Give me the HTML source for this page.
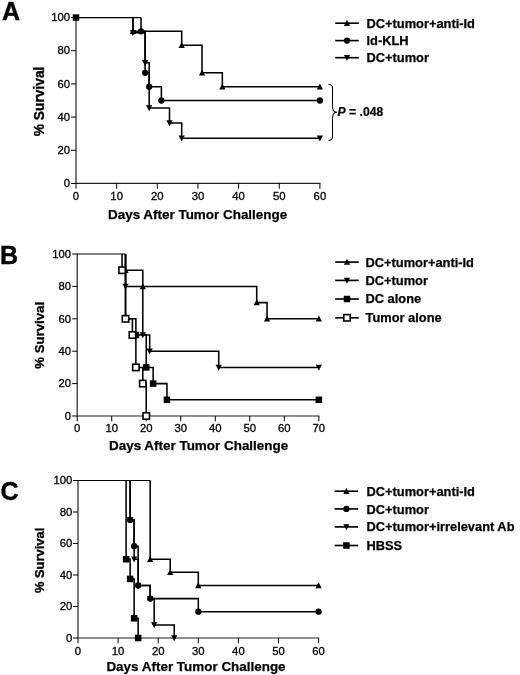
<!DOCTYPE html>
<html><head><meta charset="utf-8"><title>Survival curves</title>
<style>
html,body{margin:0;padding:0;background:#fff;}
body{width:520px;height:675px;overflow:hidden;font-family:"Liberation Sans",sans-serif;}
svg{display:block;will-change:transform;}
text{font-family:"Liberation Sans",sans-serif;fill:#000;}
.tk{font-size:11.3px;stroke:#000;stroke-width:0.3px;}
.b{font-weight:bold;font-size:13.45px;stroke:#000;stroke-width:0.25px;}
.lg{font-weight:bold;font-size:12.85px;stroke:#000;stroke-width:0.25px;}
.pl{font-weight:bold;font-size:25px;stroke:#000;stroke-width:0.4px;}
.yt{font-weight:bold;font-size:13.75px;}
.pv{font-weight:bold;font-size:12.15px;stroke:#000;stroke-width:0.2px;}
</style></head><body>
<svg width="520" height="675" viewBox="0 0 520 675">
<rect x="0" y="0" width="520" height="675" fill="#fff"/>

<g><!-- panel A -->
<text class="pl" x="2.1" y="19.8">A</text>
<path d="M76.00,16.95 V183.45 H320.50" fill="none" stroke="#222" stroke-width="1.2"/>
<line x1="71.00" x2="76.00" y1="183.45" y2="183.45" stroke="#000" stroke-width="1.0"/>
<text class="tk" x="70.00" y="187.20" text-anchor="end">0</text>
<line x1="71.00" x2="76.00" y1="150.27" y2="150.27" stroke="#000" stroke-width="1.0"/>
<text class="tk" x="70.00" y="154.02" text-anchor="end">20</text>
<line x1="71.00" x2="76.00" y1="117.09" y2="117.09" stroke="#000" stroke-width="1.0"/>
<text class="tk" x="70.00" y="120.84" text-anchor="end">40</text>
<line x1="71.00" x2="76.00" y1="83.91" y2="83.91" stroke="#000" stroke-width="1.0"/>
<text class="tk" x="70.00" y="87.66" text-anchor="end">60</text>
<line x1="71.00" x2="76.00" y1="50.73" y2="50.73" stroke="#000" stroke-width="1.0"/>
<text class="tk" x="70.00" y="54.48" text-anchor="end">80</text>
<line x1="71.00" x2="76.00" y1="17.55" y2="17.55" stroke="#000" stroke-width="1.0"/>
<text class="tk" x="70.00" y="21.30" text-anchor="end">100</text>
<line x1="76.00" x2="76.00" y1="183.45" y2="188.75" stroke="#000" stroke-width="1.0"/>
<text class="tk" x="76.00" y="200.40" text-anchor="middle">0</text>
<line x1="116.65" x2="116.65" y1="183.45" y2="188.75" stroke="#000" stroke-width="1.0"/>
<text class="tk" x="116.65" y="200.40" text-anchor="middle">10</text>
<line x1="157.30" x2="157.30" y1="183.45" y2="188.75" stroke="#000" stroke-width="1.0"/>
<text class="tk" x="157.30" y="200.40" text-anchor="middle">20</text>
<line x1="197.95" x2="197.95" y1="183.45" y2="188.75" stroke="#000" stroke-width="1.0"/>
<text class="tk" x="197.95" y="200.40" text-anchor="middle">30</text>
<line x1="238.60" x2="238.60" y1="183.45" y2="188.75" stroke="#000" stroke-width="1.0"/>
<text class="tk" x="238.60" y="200.40" text-anchor="middle">40</text>
<line x1="279.25" x2="279.25" y1="183.45" y2="188.75" stroke="#000" stroke-width="1.0"/>
<text class="tk" x="279.25" y="200.40" text-anchor="middle">50</text>
<line x1="319.90" x2="319.90" y1="183.45" y2="188.75" stroke="#000" stroke-width="1.0"/>
<text class="tk" x="319.90" y="200.40" text-anchor="middle">60</text>
<text class="b" x="197.6" y="219.30" text-anchor="middle">Days After Tumor Challenge</text>
<text class="yt" style="font-size:13.75px" stroke="#000" stroke-width="0.35" transform="translate(43.8,101.4) rotate(-90)" text-anchor="middle">% Survival</text>
<path d="M76.00,17.55 H141.04" fill="none" stroke="#000" stroke-width="1.15"/>
<path d="M132.91,17.55 H132.91 V31.32 H181.69 V45.26 H202.02 V72.79 H222.34 V86.73 H319.90" fill="none" stroke="#000" stroke-width="1.55" stroke-linejoin="miter"/>
<path d="M132.91,17.55 H132.91 V32.65 H145.11 V62.84 H149.17 V107.97 H169.50 V123.06 H181.69 V138.16 H319.90" fill="none" stroke="#000" stroke-width="1.55" stroke-linejoin="miter"/>
<path d="M141.04,17.55 H141.04 V31.32 H145.11 V72.79 H149.17 V86.73 H161.37 V100.50 H319.90" fill="none" stroke="#000" stroke-width="1.55" stroke-linejoin="miter"/>
<path d="M129.81,34.07 L136.01,34.07 L132.91,27.97 Z" fill="#000"/>
<path d="M178.59,48.01 L184.79,48.01 L181.69,41.91 Z" fill="#000"/>
<path d="M198.92,75.54 L205.12,75.54 L202.02,69.44 Z" fill="#000"/>
<path d="M219.24,89.48 L225.44,89.48 L222.34,83.38 Z" fill="#000"/>
<path d="M316.80,89.48 L323.00,89.48 L319.90,83.38 Z" fill="#000"/>
<path d="M129.81,29.90 L136.01,29.90 L132.91,36.00 Z" fill="#000"/>
<path d="M142.01,60.09 L148.21,60.09 L145.11,66.19 Z" fill="#000"/>
<path d="M146.07,105.22 L152.27,105.22 L149.17,111.32 Z" fill="#000"/>
<path d="M166.40,120.31 L172.59,120.31 L169.50,126.41 Z" fill="#000"/>
<path d="M178.59,135.41 L184.79,135.41 L181.69,141.51 Z" fill="#000"/>
<path d="M316.80,135.41 L323.00,135.41 L319.90,141.51 Z" fill="#000"/>
<circle cx="141.04" cy="31.32" r="3.15" fill="#000"/>
<circle cx="145.11" cy="72.79" r="3.15" fill="#000"/>
<circle cx="149.17" cy="86.73" r="3.15" fill="#000"/>
<circle cx="161.37" cy="100.50" r="3.15" fill="#000"/>
<circle cx="319.90" cy="100.50" r="3.15" fill="#000"/>
<rect x="72.75" y="14.30" width="6.50" height="6.50" fill="#000"/>
<line x1="335.20" x2="358.80" y1="23.2" y2="23.2" stroke="#000" stroke-width="1.65"/>
<path d="M343.90,25.95 L350.10,25.95 L347.00,19.85 Z" fill="#000"/>
<text class="lg" x="366.5" y="27.70">DC+tumor+anti-Id</text>
<line x1="335.20" x2="358.80" y1="40.6" y2="40.6" stroke="#000" stroke-width="1.65"/>
<circle cx="347.00" cy="40.60" r="3.15" fill="#000"/>
<text class="lg" x="366.5" y="44.80">Id-KLH</text>
<line x1="335.20" x2="358.80" y1="57.7" y2="57.7" stroke="#000" stroke-width="1.65"/>
<path d="M343.90,54.95 L350.10,54.95 L347.00,61.05 Z" fill="#000"/>
<text class="lg" x="366.5" y="61.50">DC+tumor</text>
</g>
<g><!-- panel B -->
<text class="pl" x="0.1" y="264">B</text>
<path d="M77.20,253.40 V416.00 H319.44" fill="none" stroke="#222" stroke-width="1.2"/>
<line x1="72.20" x2="77.20" y1="416.00" y2="416.00" stroke="#000" stroke-width="1.0"/>
<text class="tk" x="71.00" y="419.75" text-anchor="end">0</text>
<line x1="72.20" x2="77.20" y1="383.60" y2="383.60" stroke="#000" stroke-width="1.0"/>
<text class="tk" x="71.00" y="387.35" text-anchor="end">20</text>
<line x1="72.20" x2="77.20" y1="351.20" y2="351.20" stroke="#000" stroke-width="1.0"/>
<text class="tk" x="71.00" y="354.95" text-anchor="end">40</text>
<line x1="72.20" x2="77.20" y1="318.80" y2="318.80" stroke="#000" stroke-width="1.0"/>
<text class="tk" x="71.00" y="322.55" text-anchor="end">60</text>
<line x1="72.20" x2="77.20" y1="286.40" y2="286.40" stroke="#000" stroke-width="1.0"/>
<text class="tk" x="71.00" y="290.15" text-anchor="end">80</text>
<line x1="72.20" x2="77.20" y1="254.00" y2="254.00" stroke="#000" stroke-width="1.0"/>
<text class="tk" x="71.00" y="257.75" text-anchor="end">100</text>
<line x1="77.20" x2="77.20" y1="416.00" y2="421.30" stroke="#000" stroke-width="1.0"/>
<text class="tk" x="77.20" y="432.35" text-anchor="middle">0</text>
<line x1="111.72" x2="111.72" y1="416.00" y2="421.30" stroke="#000" stroke-width="1.0"/>
<text class="tk" x="111.72" y="432.35" text-anchor="middle">10</text>
<line x1="146.24" x2="146.24" y1="416.00" y2="421.30" stroke="#000" stroke-width="1.0"/>
<text class="tk" x="146.24" y="432.35" text-anchor="middle">20</text>
<line x1="180.76" x2="180.76" y1="416.00" y2="421.30" stroke="#000" stroke-width="1.0"/>
<text class="tk" x="180.76" y="432.35" text-anchor="middle">30</text>
<line x1="215.28" x2="215.28" y1="416.00" y2="421.30" stroke="#000" stroke-width="1.0"/>
<text class="tk" x="215.28" y="432.35" text-anchor="middle">40</text>
<line x1="249.80" x2="249.80" y1="416.00" y2="421.30" stroke="#000" stroke-width="1.0"/>
<text class="tk" x="249.80" y="432.35" text-anchor="middle">50</text>
<line x1="284.32" x2="284.32" y1="416.00" y2="421.30" stroke="#000" stroke-width="1.0"/>
<text class="tk" x="284.32" y="432.35" text-anchor="middle">60</text>
<line x1="318.84" x2="318.84" y1="416.00" y2="421.30" stroke="#000" stroke-width="1.0"/>
<text class="tk" x="318.84" y="432.35" text-anchor="middle">70</text>
<text class="b" x="198.6" y="450.10" text-anchor="middle">Days After Tumor Challenge</text>
<text class="yt" style="font-size:13.2px" stroke="#000" stroke-width="0.35" transform="translate(44.4,335.3) rotate(-90)" text-anchor="middle">% Survival</text>
<path d="M77.20,254.00 H125.53" fill="none" stroke="#000" stroke-width="1.15"/>
<path d="M125.53,254.00 H125.53 V270.20 H142.79 V286.40 H256.70 V302.60 H267.06 V318.80 H318.84" fill="none" stroke="#000" stroke-width="1.55" stroke-linejoin="miter"/>
<path d="M125.53,254.00 H125.53 V286.40 H142.79 V335.00 H149.69 V351.20 H218.73 V367.40 H318.84" fill="none" stroke="#000" stroke-width="1.55" stroke-linejoin="miter"/>
<path d="M125.53,254.00 H125.53 V318.80 H135.88 V335.00 H146.24 V367.40 H153.14 V383.60 H166.95 V399.80 H318.84" fill="none" stroke="#000" stroke-width="1.55" stroke-linejoin="miter"/>
<path d="M122.08,254.00 H122.08 V270.20 H125.53 V318.80 H132.43 V335.00 H135.88 V367.40 H142.79 V383.60 H146.24 V416.00" fill="none" stroke="#000" stroke-width="1.55" stroke-linejoin="miter"/>
<path d="M122.43,272.95 L128.63,272.95 L125.53,266.85 Z" fill="#000"/>
<path d="M139.69,289.15 L145.89,289.15 L142.79,283.05 Z" fill="#000"/>
<path d="M253.60,305.35 L259.80,305.35 L256.70,299.25 Z" fill="#000"/>
<path d="M263.96,321.55 L270.16,321.55 L267.06,315.45 Z" fill="#000"/>
<path d="M315.74,321.55 L321.94,321.55 L318.84,315.45 Z" fill="#000"/>
<path d="M122.43,283.65 L128.63,283.65 L125.53,289.75 Z" fill="#000"/>
<path d="M139.69,332.25 L145.89,332.25 L142.79,338.35 Z" fill="#000"/>
<path d="M146.59,348.45 L152.79,348.45 L149.69,354.55 Z" fill="#000"/>
<path d="M215.63,364.65 L221.83,364.65 L218.73,370.75 Z" fill="#000"/>
<path d="M315.74,364.65 L321.94,364.65 L318.84,370.75 Z" fill="#000"/>
<rect x="122.28" y="315.55" width="6.50" height="6.50" fill="#000"/>
<rect x="132.63" y="331.75" width="6.50" height="6.50" fill="#000"/>
<rect x="142.99" y="364.15" width="6.50" height="6.50" fill="#000"/>
<rect x="149.89" y="380.35" width="6.50" height="6.50" fill="#000"/>
<rect x="163.70" y="396.55" width="6.50" height="6.50" fill="#000"/>
<rect x="315.59" y="396.55" width="6.50" height="6.50" fill="#000"/>
<rect x="118.88" y="267.00" width="6.40" height="6.40" fill="#fff" stroke="#000" stroke-width="1.6"/>
<rect x="122.33" y="315.60" width="6.40" height="6.40" fill="#fff" stroke="#000" stroke-width="1.6"/>
<rect x="129.23" y="331.80" width="6.40" height="6.40" fill="#fff" stroke="#000" stroke-width="1.6"/>
<rect x="132.68" y="364.20" width="6.40" height="6.40" fill="#fff" stroke="#000" stroke-width="1.6"/>
<rect x="139.59" y="380.40" width="6.40" height="6.40" fill="#fff" stroke="#000" stroke-width="1.6"/>
<rect x="143.04" y="412.80" width="6.40" height="6.40" fill="#fff" stroke="#000" stroke-width="1.6"/>
<line x1="335.20" x2="358.80" y1="262.1" y2="262.1" stroke="#000" stroke-width="1.65"/>
<path d="M343.90,264.85 L350.10,264.85 L347.00,258.75 Z" fill="#000"/>
<text class="lg" x="365.5" y="266.80">DC+tumor+anti-Id</text>
<line x1="335.20" x2="358.80" y1="280.4" y2="280.4" stroke="#000" stroke-width="1.65"/>
<path d="M343.90,277.65 L350.10,277.65 L347.00,283.75 Z" fill="#000"/>
<text class="lg" x="365.5" y="285.00">DC+tumor</text>
<line x1="335.20" x2="358.80" y1="299.0" y2="299.0" stroke="#000" stroke-width="1.65"/>
<rect x="343.75" y="295.75" width="6.50" height="6.50" fill="#000"/>
<text class="lg" x="365.5" y="303.20">DC alone</text>
<line x1="335.20" x2="358.80" y1="317.8" y2="317.8" stroke="#000" stroke-width="1.65"/>
<rect x="343.80" y="314.60" width="6.40" height="6.40" fill="#fff" stroke="#000" stroke-width="1.6"/>
<text class="lg" x="365.5" y="322.00">Tumor alone</text>
</g>
<g><!-- panel C -->
<text class="pl" x="0.6" y="499.5">C</text>
<path d="M78.00,479.90 V638.00 H319.20" fill="none" stroke="#222" stroke-width="1.2"/>
<line x1="73.00" x2="78.00" y1="638.00" y2="638.00" stroke="#000" stroke-width="1.0"/>
<text class="tk" x="72.40" y="641.75" text-anchor="end">0</text>
<line x1="73.00" x2="78.00" y1="606.50" y2="606.50" stroke="#000" stroke-width="1.0"/>
<text class="tk" x="72.40" y="610.25" text-anchor="end">20</text>
<line x1="73.00" x2="78.00" y1="575.00" y2="575.00" stroke="#000" stroke-width="1.0"/>
<text class="tk" x="72.40" y="578.75" text-anchor="end">40</text>
<line x1="73.00" x2="78.00" y1="543.50" y2="543.50" stroke="#000" stroke-width="1.0"/>
<text class="tk" x="72.40" y="547.25" text-anchor="end">60</text>
<line x1="73.00" x2="78.00" y1="512.00" y2="512.00" stroke="#000" stroke-width="1.0"/>
<text class="tk" x="72.40" y="515.75" text-anchor="end">80</text>
<line x1="73.00" x2="78.00" y1="480.50" y2="480.50" stroke="#000" stroke-width="1.0"/>
<text class="tk" x="72.40" y="484.25" text-anchor="end">100</text>
<line x1="78.00" x2="78.00" y1="638.00" y2="643.30" stroke="#000" stroke-width="1.0"/>
<text class="tk" x="78.00" y="654.55" text-anchor="middle">0</text>
<line x1="118.10" x2="118.10" y1="638.00" y2="643.30" stroke="#000" stroke-width="1.0"/>
<text class="tk" x="118.10" y="654.55" text-anchor="middle">10</text>
<line x1="158.20" x2="158.20" y1="638.00" y2="643.30" stroke="#000" stroke-width="1.0"/>
<text class="tk" x="158.20" y="654.55" text-anchor="middle">20</text>
<line x1="198.30" x2="198.30" y1="638.00" y2="643.30" stroke="#000" stroke-width="1.0"/>
<text class="tk" x="198.30" y="654.55" text-anchor="middle">30</text>
<line x1="238.40" x2="238.40" y1="638.00" y2="643.30" stroke="#000" stroke-width="1.0"/>
<text class="tk" x="238.40" y="654.55" text-anchor="middle">40</text>
<line x1="278.50" x2="278.50" y1="638.00" y2="643.30" stroke="#000" stroke-width="1.0"/>
<text class="tk" x="278.50" y="654.55" text-anchor="middle">50</text>
<line x1="318.60" x2="318.60" y1="638.00" y2="643.30" stroke="#000" stroke-width="1.0"/>
<text class="tk" x="318.60" y="654.55" text-anchor="middle">60</text>
<text class="b" x="196.0" y="670.70" text-anchor="middle">Days After Tumor Challenge</text>
<text class="yt" style="font-size:12.95px" stroke="#000" stroke-width="0.35" transform="translate(43.8,560.4) rotate(-90)" text-anchor="middle">% Survival</text>
<path d="M78.00,480.50 H150.18" fill="none" stroke="#000" stroke-width="1.15"/>
<path d="M150.18,480.50 H150.18 V559.25 H170.23 V572.32 H198.30 V585.55 H318.60" fill="none" stroke="#000" stroke-width="1.55" stroke-linejoin="miter"/>
<path d="M130.13,480.50 H130.13 V519.88 H134.14 V559.25 H138.15 V585.55 H150.18 V598.62 H154.19 V624.93 H174.24 V638.00" fill="none" stroke="#000" stroke-width="1.55" stroke-linejoin="miter"/>
<path d="M130.13,480.50 H130.13 V519.88 H134.14 V546.18 H138.15 V585.55 H150.18 V598.62 H198.30 V611.70 H318.60" fill="none" stroke="#000" stroke-width="1.55" stroke-linejoin="miter"/>
<path d="M126.12,480.50 H126.12 V559.25 H130.13 V578.94 H134.14 V618.31 H138.15 V638.00" fill="none" stroke="#000" stroke-width="1.55" stroke-linejoin="miter"/>
<path d="M147.08,562.00 L153.28,562.00 L150.18,555.90 Z" fill="#000"/>
<path d="M167.13,575.07 L173.33,575.07 L170.23,568.97 Z" fill="#000"/>
<path d="M195.20,588.30 L201.40,588.30 L198.30,582.20 Z" fill="#000"/>
<path d="M315.50,588.30 L321.70,588.30 L318.60,582.20 Z" fill="#000"/>
<path d="M127.03,517.12 L133.23,517.12 L130.13,523.22 Z" fill="#000"/>
<path d="M131.04,556.50 L137.24,556.50 L134.14,562.60 Z" fill="#000"/>
<path d="M135.05,582.80 L141.25,582.80 L138.15,588.90 Z" fill="#000"/>
<path d="M147.08,595.88 L153.28,595.88 L150.18,601.97 Z" fill="#000"/>
<path d="M151.09,622.18 L157.29,622.18 L154.19,628.28 Z" fill="#000"/>
<path d="M171.14,635.25 L177.34,635.25 L174.24,641.35 Z" fill="#000"/>
<circle cx="130.13" cy="519.88" r="3.15" fill="#000"/>
<circle cx="134.14" cy="546.18" r="3.15" fill="#000"/>
<circle cx="138.15" cy="585.55" r="3.15" fill="#000"/>
<circle cx="150.18" cy="598.62" r="3.15" fill="#000"/>
<circle cx="198.30" cy="611.70" r="3.15" fill="#000"/>
<circle cx="318.60" cy="611.70" r="3.15" fill="#000"/>
<rect x="122.87" y="556.00" width="6.50" height="6.50" fill="#000"/>
<rect x="126.88" y="575.69" width="6.50" height="6.50" fill="#000"/>
<rect x="130.89" y="615.06" width="6.50" height="6.50" fill="#000"/>
<rect x="134.90" y="634.75" width="6.50" height="6.50" fill="#000"/>
<line x1="334.60" x2="358.20" y1="491.2" y2="491.2" stroke="#000" stroke-width="1.65"/>
<path d="M343.30,493.95 L349.50,493.95 L346.40,487.85 Z" fill="#000"/>
<text class="lg" x="366.5" y="495.50">DC+tumor+anti-Id</text>
<line x1="334.60" x2="358.20" y1="508.9" y2="508.9" stroke="#000" stroke-width="1.65"/>
<circle cx="346.40" cy="508.90" r="3.15" fill="#000"/>
<text class="lg" x="366.5" y="513.60">DC+tumor</text>
<line x1="334.60" x2="358.20" y1="526.9" y2="526.9" stroke="#000" stroke-width="1.65"/>
<path d="M343.30,524.15 L349.50,524.15 L346.40,530.25 Z" fill="#000"/>
<text class="lg" x="366.5" y="531.00">DC+tumor+irrelevant Ab</text>
<line x1="334.60" x2="358.20" y1="545.5" y2="545.5" stroke="#000" stroke-width="1.65"/>
<rect x="343.15" y="542.25" width="6.50" height="6.50" fill="#000"/>
<text class="lg" x="366.5" y="550.20">HBSS</text>
</g>
<path d="M328.5,84.5 C333.5,84.5 332.5,88 332.5,93 L332.5,105 C332.5,110 333,112 337,112.3 C333,112.6 332.5,115 332.5,120 L332.5,132 C332.5,137 333.5,140.5 328.5,140.5" fill="none" stroke="#000" stroke-width="1.05"/>
<text class="pv" x="337.6" y="116.3"><tspan font-style="italic">P</tspan> = .048</text>
</svg>
</body></html>
